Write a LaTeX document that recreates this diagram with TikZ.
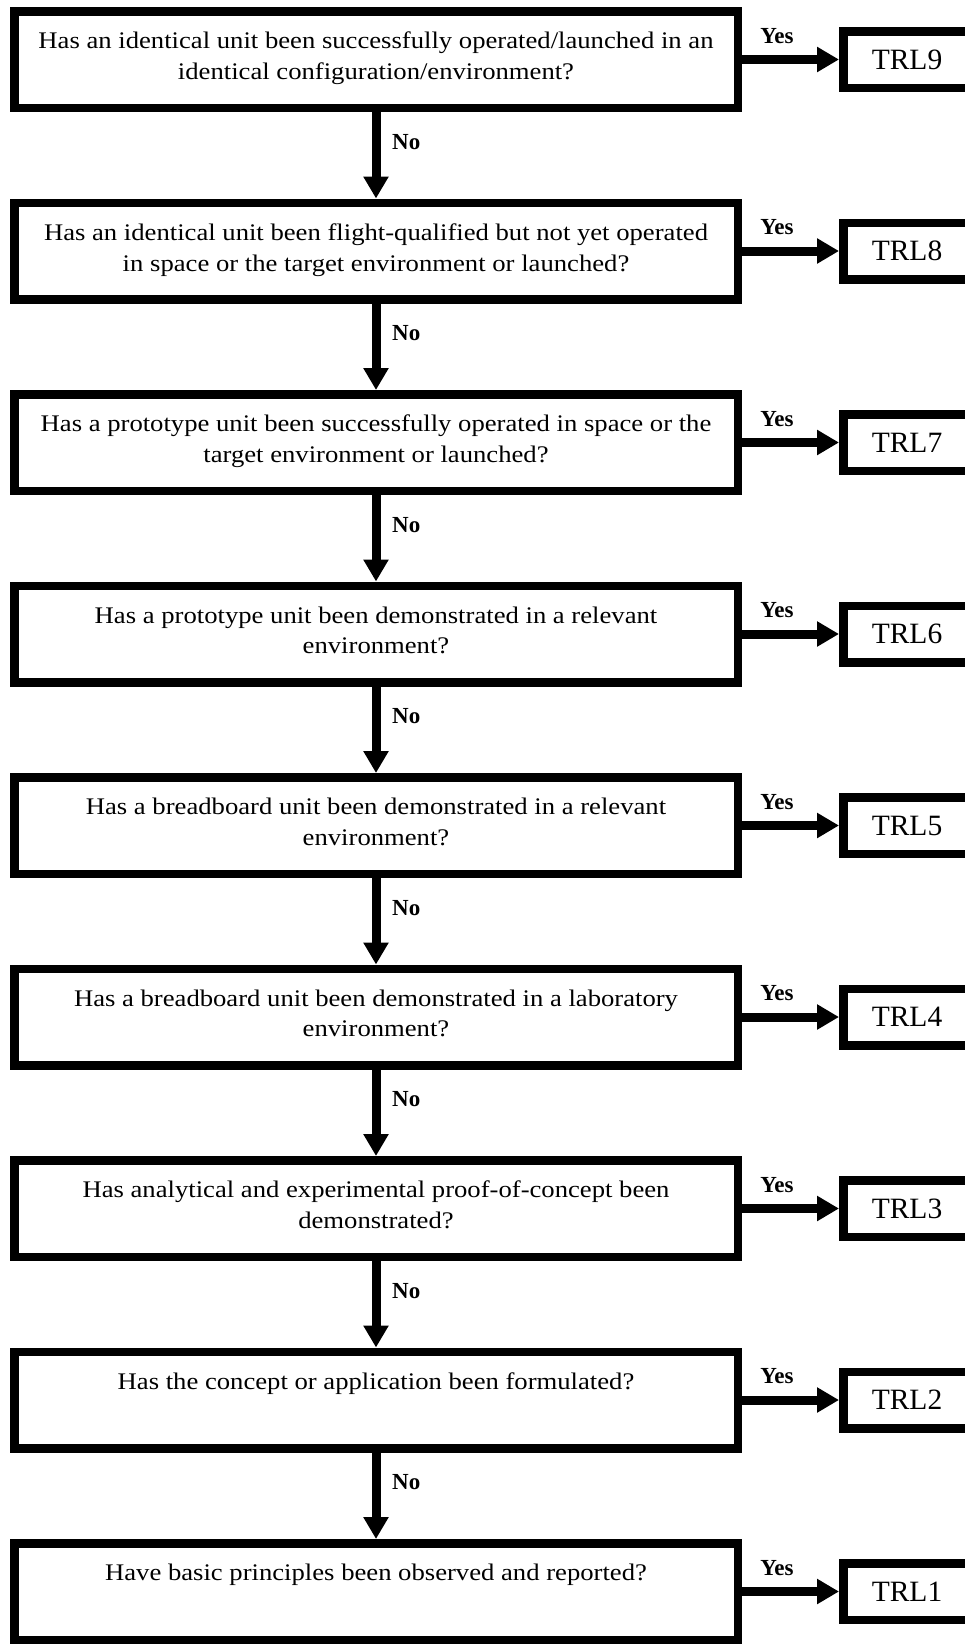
\documentclass[tikz,border=0pt]{standalone}
\usepackage{fontspec}
\setmainfont{Liberation Serif}
\newfontfamily\qfont[FakeStretch=1.12]{Liberation Serif}
\usetikzlibrary{arrows.meta}
\begin{document}
\begin{tikzpicture}[x=1pt,y=-1pt,
  qbox/.style={draw, line width=8.5pt, minimum width=723.5pt, minimum height=96.5pt, inner sep=0pt},
  qtext/.style={anchor=north, align=center, inner sep=0pt, font=\qfont\fontsize{23.8}{30.6}\selectfont},
  rbox/.style={draw, line width=8.5pt, minimum width=127.5pt, minimum height=56.5pt, inner sep=0pt, font=\fontsize{29.5}{34}\selectfont},
  lab/.style={anchor=base, inner sep=0pt, font=\fontsize{23}{26}\selectfont\bfseries},
  flow/.style={line width=9pt, -{Triangle[length=22pt,width=24pt]}}
]
\useasboundingbox (0,0) rectangle (965,1644);
\foreach \i in {1,...,9}{
  \pgfmathsetmacro\yt{7+191.5*(\i-1)}
  \pgfmathtruncatemacro\trl{10-\i}
  \node[qbox] (b\i) at (376,\yt+52.5) {};
  \node[rbox] (r\i) at (907,\yt+52.5) {TRL\trl};
  \draw[flow] (b\i.east) -- (r\i.west);
  \node[lab] (y\i) at ([xshift=35pt,yshift=-36pt]b\i.north east) {Yes};
}
\foreach \i in {1,...,8}{
  \pgfmathtruncatemacro\j{\i+1}
  \draw[flow] (b\i.south) -- (b\j.north);
  \node[lab, anchor=base west] (n\i) at ([xshift=16pt,yshift=-37pt]b\i.south) {No};
}
\node[qtext] (t1) at ([yshift=-25pt]b1.north) {Has an identical unit been successfully operated/launched in an\\identical configuration/environment?};
\node[qtext] (t2) at ([yshift=-25pt]b2.north) {Has an identical unit been flight-qualified but not yet operated\\in space or the target environment or launched?};
\node[qtext] (t3) at ([yshift=-25pt]b3.north) {Has a prototype unit been successfully operated in space or the\\target environment or launched?};
\node[qtext] (t4) at ([yshift=-25pt]b4.north) {Has a prototype unit been demonstrated in a relevant\\environment?};
\node[qtext] (t5) at ([yshift=-25pt]b5.north) {Has a breadboard unit been demonstrated in a relevant\\environment?};
\node[qtext] (t6) at ([yshift=-25pt]b6.north) {Has a breadboard unit been demonstrated in a laboratory\\environment?};
\node[qtext] (t7) at ([yshift=-25pt]b7.north) {Has analytical and experimental proof-of-concept been\\demonstrated?};
\node[qtext] (t8) at ([yshift=-25pt]b8.north) {Has the concept or application been formulated?};
\node[qtext] (t9) at ([yshift=-25pt]b9.north) {Have basic principles been observed and reported?};
\end{tikzpicture}
\end{document}
